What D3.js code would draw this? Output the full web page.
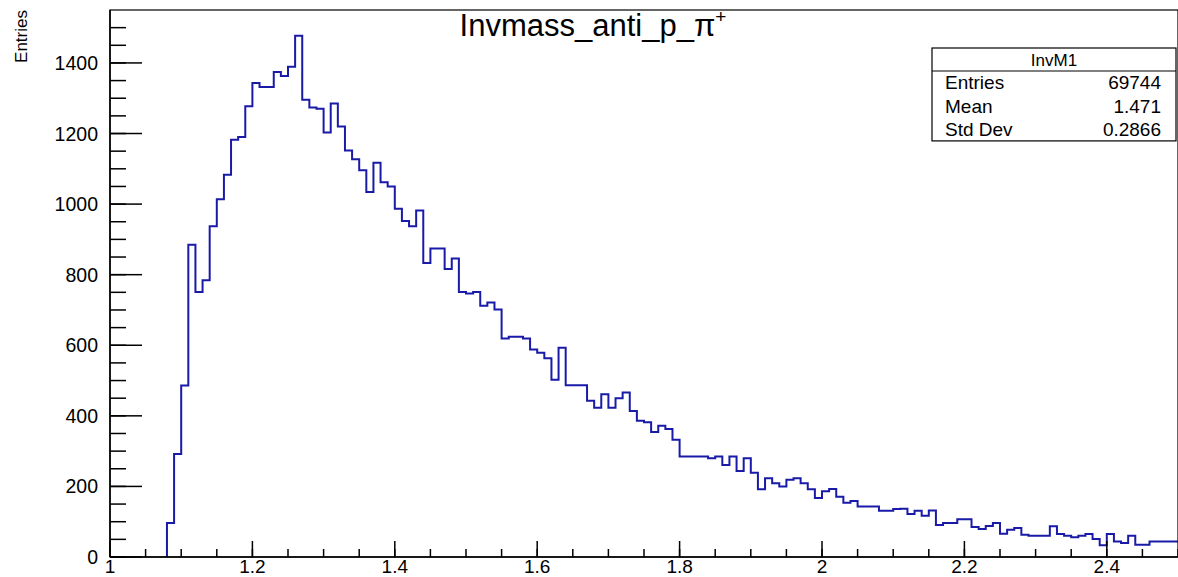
<!DOCTYPE html>
<html>
<head>
<meta charset="utf-8">
<script src="https://cdn.jsdelivr.net/npm/d3@7"></script>
<style>
  body { margin: 0; background: #fff; }
  text { font-family: "Liberation Sans", Arial, Helvetica, sans-serif; fill: #000; }
</style>
</head>
<body>
<script>
// histogram: 0.01 wide bins, first filled bin starts at 1.08
const binStart = 1.08;
const binWidth = 0.01;
const counts = [
  96, 292, 486, 885, 751, 784, 937, 1014, 1083, 1182,
  1190, 1277, 1343, 1332, 1332, 1374, 1363, 1389, 1477, 1296,
  1274, 1270, 1203, 1285, 1220, 1152, 1127, 1096, 1034, 1117,
  1062, 1050, 987, 952, 937, 982, 833, 874, 874, 816,
  846, 751, 747, 751, 712, 721, 701, 619, 624, 624,
  619, 588, 579, 563, 502, 593, 487, 487, 487, 443,
  423, 461, 423, 450, 466, 414, 386, 382, 354, 372,
  363, 332, 285, 285, 285, 285, 280, 285, 261, 285,
  244, 280, 239, 192, 223, 209, 200, 219, 223, 209,
  192, 167, 186, 193, 171, 154, 159, 143, 143, 143,
  131, 131, 136, 137, 122, 131, 117, 132, 91, 96,
  96, 107, 107, 85, 79, 88, 96, 66, 77, 82,
  63, 60, 60, 60, 87, 65, 60, 56, 60, 65,
  51, 33, 65, 44, 40, 60, 35, 35, 44, 44,
  44, 44
];
const xDomain = [1, 2.5];
const yDomain = [0, 1550];
const xTickValues = [1, 1.2, 1.4, 1.6, 1.8, 2, 2.2, 2.4];
const yTickValues = [0, 200, 400, 600, 800, 1000, 1200, 1400];
const titleMain = "Invmass_anti_p_\u03c0";
const titleSup = "+";
const yTitle = "Entries";
const statsName = "InvM1";
const statsLabels = ["Entries", "Mean", "Std Dev"];
const statsValues = ["69744", "1.471", "0.2866"];

const W = 1178, H = 577;
const padL = 110, padR = 1178, padT = 10, padB = 557;

const svg = d3.select("body").append("svg")
  .attr("width", W)
  .attr("height", H);

const x = d3.scaleLinear().domain(xDomain).range([padL, padR]);
const y = d3.scaleLinear().domain(yDomain).range([padB, padT]);

// step outline of the histogram
const pts = [[binStart, 0]];
counts.forEach((c, i) => pts.push([binStart + i * binWidth, c]));
pts.push([xDomain[1], counts[counts.length - 1]]);

const line = d3.line()
  .x(d => x(d[0]))
  .y(d => y(d[1]))
  .curve(d3.curveStepAfter);

svg.append("path")
  .datum(pts)
  .attr("d", line)
  .attr("fill", "none")
  .attr("stroke", "#1a1aa8")
  .attr("stroke-width", 2);

// frame
svg.append("rect")
  .attr("x", padL).attr("y", padT)
  .attr("width", padR - padL).attr("height", padB - padT)
  .attr("fill", "none")
  .attr("stroke", "#000")
  .attr("stroke-width", 1.2);

// x axis (ticks pointing up into the plot)
const xMinor = d3.range(1, 2.5001, 0.05);
const xAxis = svg.append("g").attr("transform", `translate(0,${padB})`);
xAxis.selectAll("line.minor").data(xMinor).join("line")
  .attr("class", "minor")
  .attr("x1", d => x(d)).attr("x2", d => x(d))
  .attr("y1", 0).attr("y2", -8)
  .attr("stroke", "#000").attr("stroke-width", 1.5);
xAxis.selectAll("line.major").data(xTickValues).join("line")
  .attr("class", "major")
  .attr("x1", d => x(d)).attr("x2", d => x(d))
  .attr("y1", 0).attr("y2", -16)
  .attr("stroke", "#000").attr("stroke-width", 1.5);
xAxis.append("line")
  .attr("x1", padL).attr("x2", padR)
  .attr("stroke", "#000").attr("stroke-width", 1.5);
xAxis.selectAll("text").data(xTickValues).join("text")
  .attr("x", d => x(d))
  .attr("y", 16)
  .attr("text-anchor", "middle")
  .attr("font-size", 19)
  .text(d => d3.format("~g")(d));

// y axis (ticks pointing right into the plot)
const yMinor = d3.range(0, 1550, 50);
const yAxis = svg.append("g").attr("transform", `translate(${padL},0)`);
yAxis.selectAll("line.minor").data(yMinor).join("line")
  .attr("class", "minor")
  .attr("y1", d => y(d)).attr("y2", d => y(d))
  .attr("x1", 0).attr("x2", 16)
  .attr("stroke", "#000").attr("stroke-width", 1.5);
yAxis.selectAll("line.major").data(yTickValues).join("line")
  .attr("class", "major")
  .attr("y1", d => y(d)).attr("y2", d => y(d))
  .attr("x1", 0).attr("x2", 32)
  .attr("stroke", "#000").attr("stroke-width", 1.5);
yAxis.append("line")
  .attr("y1", padT).attr("y2", padB)
  .attr("stroke", "#000").attr("stroke-width", 1.5);
yAxis.selectAll("text").data(yTickValues).join("text")
  .attr("x", -12)
  .attr("y", d => y(d))
  .attr("dy", "0.36em")
  .attr("text-anchor", "end")
  .attr("font-size", 19.5)
  .text(d => d);

// y title
svg.append("text")
  .attr("transform", "translate(27,10) rotate(-90)")
  .attr("text-anchor", "end")
  .attr("font-size", 17)
  .text(yTitle);

// title
const title = svg.append("text")
  .attr("x", 593)
  .attr("y", 36)
  .attr("text-anchor", "middle")
  .attr("font-size", 31);
title.append("tspan").text(titleMain);
title.append("tspan")
  .attr("dy", -13)
  .attr("font-size", 19)
  .text(titleSup);

// stats box
const bx = 932, by = 48, bw = 244, hh = 23, rh = 23.3;
const stats = svg.append("g");
stats.append("rect")
  .attr("x", bx).attr("y", by)
  .attr("width", bw).attr("height", hh + rh * statsLabels.length)
  .attr("fill", "#fff")
  .attr("stroke", "#000")
  .attr("stroke-width", 1.2);
stats.append("line")
  .attr("x1", bx).attr("x2", bx + bw)
  .attr("y1", by + hh).attr("y2", by + hh)
  .attr("stroke", "#000").attr("stroke-width", 1.2);
stats.append("text")
  .attr("x", bx + bw / 2)
  .attr("y", by + hh / 2)
  .attr("dy", "0.36em")
  .attr("text-anchor", "middle")
  .attr("font-size", 17)
  .text(statsName);
stats.selectAll("text.lab").data(statsLabels).join("text")
  .attr("class", "lab")
  .attr("x", bx + 13)
  .attr("y", (d, i) => by + hh + rh * (i + 0.5))
  .attr("dy", "0.36em")
  .attr("font-size", 19)
  .text(d => d);
stats.selectAll("text.val").data(statsValues).join("text")
  .attr("class", "val")
  .attr("x", bx + bw - 15)
  .attr("y", (d, i) => by + hh + rh * (i + 0.5))
  .attr("dy", "0.36em")
  .attr("text-anchor", "end")
  .attr("font-size", 19)
  .text(d => d);
</script>
</body>
</html>
